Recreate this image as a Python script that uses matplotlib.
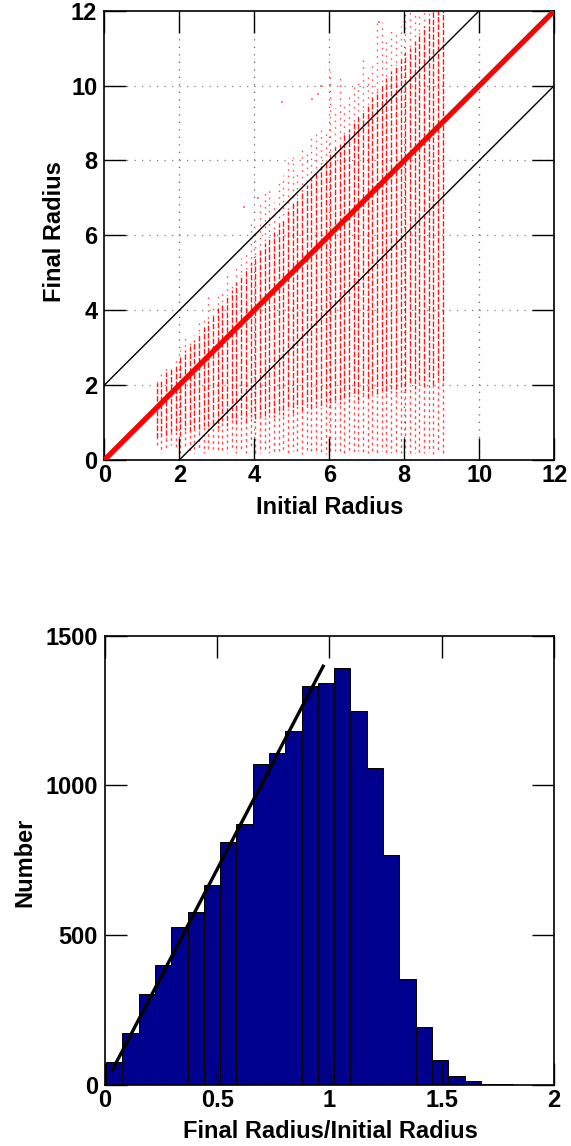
import numpy as np
import matplotlib
matplotlib.use("Agg")
import matplotlib.pyplot as plt

plt.rcParams['font.family'] = ['Liberation Sans', 'DejaVu Sans']
plt.rcParams['font.weight'] = 'bold'

# ---- top panel: final vs initial radius (columns of points) ----
init_r = [1.4, 1.525, 1.65, 1.775, 1.9, 2.025, 2.15, 2.275, 2.4, 2.525,
          2.65, 2.775, 2.9, 3.025, 3.15, 3.275, 3.4, 3.525, 3.65, 3.775,
          3.9, 4.025, 4.15, 4.275, 4.4, 4.525, 4.65, 4.775, 4.9, 5.025,
          5.15, 5.275, 5.4, 5.525, 5.65, 5.775, 5.9, 6.025, 6.15, 6.275,
          6.4, 6.525, 6.65, 6.775, 6.9, 7.025, 7.15, 7.275, 7.4, 7.525,
          7.65, 7.775, 7.9, 8.025, 8.15, 8.275, 8.4, 8.525, 8.65, 8.775,
          8.9, 9.025]
# lowest point, start of dense part, end of dense part, highest point
final_lo = [0.40, 0.20, 0.30, 0.40, 0.30, 0.20, 0.30, 0.25, 0.20, 0.30,
            0.20, 0.25, 0.30, 0.20, 0.25, 0.20, 0.30, 0.20, 0.25, 0.20,
            0.30, 0.15, 0.20, 0.25, 0.20, 0.15, 0.25, 0.20, 0.15, 0.25,
            0.20, 0.15, 0.20, 0.25, 0.15, 0.20, 0.15, 0.20, 0.25, 0.15,
            0.20, 0.15, 0.20, 0.25, 0.15, 0.20, 0.15, 0.20, 0.25, 0.15,
            0.20, 0.15, 0.20, 0.25, 0.15, 0.20, 0.15, 0.20, 0.25, 0.15,
            0.20, 0.15]
dense_lo = [0.60, 0.65, 0.60, 0.75, 0.70, 0.65, 0.80, 0.70, 0.85, 0.75,
            0.90, 0.80, 0.95, 0.85, 1.00, 0.90, 1.05, 0.95, 1.10, 1.00,
            1.15, 1.05, 1.20, 1.10, 1.25, 1.15, 1.30, 1.20, 1.35, 1.25,
            1.40, 1.30, 1.45, 1.35, 1.50, 1.40, 1.55, 1.45, 1.60, 1.50,
            1.65, 1.55, 1.70, 1.60, 1.75, 1.65, 1.80, 1.70, 1.85, 1.75,
            1.90, 1.80, 1.95, 1.85, 2.00, 1.90, 2.05, 1.95, 2.10, 2.00,
            2.15, 2.05]
dense_hi = [2.05, 2.15, 2.35, 2.45, 2.55, 2.75, 2.95, 3.05, 3.20, 3.40,
            3.55, 3.70, 3.85, 4.05, 4.20, 4.40, 4.55, 4.75, 4.95, 5.10,
            5.30, 5.45, 5.60, 5.80, 5.95, 6.10, 6.30, 6.45, 6.65, 6.90,
            7.00, 7.20, 7.35, 7.50, 7.70, 7.85, 8.00, 8.20, 8.35, 8.50,
            8.70, 8.85, 9.00, 9.20, 9.35, 9.50, 9.70, 9.85, 10.00, 10.20,
            10.40, 10.55, 10.70, 10.90, 11.00, 11.20, 11.40, 11.60, 11.80, 12.00,
            12.00, 12.00]
final_hi = [2.15, 2.30, 2.45, 2.60, 2.75, 2.95, 3.30, 3.20, 3.35, 3.65,
            3.85, 4.35, 4.10, 4.50, 4.45, 4.95, 4.75, 5.20, 5.40, 5.60,
            6.40, 6.20, 6.95, 7.20, 7.30, 6.90, 7.40, 7.60, 8.10, 8.10,
            7.70, 8.40, 8.20, 8.60, 8.70, 8.90, 8.80, 10.40, 9.40, 10.20,
            9.50, 9.80, 10.00, 10.10, 10.80, 10.25, 10.60, 11.70, 11.70, 11.30,
            11.50, 11.40, 11.60, 12.00, 12.00, 12.00, 12.00, 12.00, 12.00, 12.00,
            12.00, 12.00]
# isolated points
stray_x = [3.73, 4.10, 4.75, 5.53, 5.69, 5.78, 7.33]
stray_y = [6.77, 7.00, 9.55, 9.65, 9.78, 10.00, 11.70]

# ---- bottom panel: histogram of final/initial radius ----
hist_counts = [76, 172, 303, 399, 526, 578, 668, 812, 872, 1070,
               1108, 1183, 1332, 1343, 1392, 1248, 1059, 768, 354, 192,
               82, 30, 13, 3, 2]
bin_start = 0.006
bin_width = 0.0725
fit_x = [0.034, 0.972]
fit_y = [50, 1398]

fs = 17
fig = plt.figure(figsize=(5.71, 11.46), dpi=100)

ax1 = fig.add_axes([104.3/571, 1-460/1146, 450/571, 449.3/1146])
ax1.set_xlim(0, 12)
ax1.set_ylim(0, 12)
for v in range(2, 12, 2):
    ax1.axvline(v, color='0.4', lw=0.9, ls=(0, (1, 5)), zorder=0)
    ax1.axhline(v, color='0.5', lw=0.9, ls=(0, (1, 5)), zorder=0)

for i, x in enumerate(init_r):
    off = (i * 1.7) % 4
    ax1.plot([x, x], [final_lo[i], dense_lo[i]], color='red', alpha=0.7,
             lw=1.0, ls=(off, (2, 2.4)), zorder=1)
    ax1.plot([x, x], [dense_lo[i], dense_hi[i]], color='red', alpha=0.9,
             lw=1.0, ls=(off, (4, 1.3)), zorder=1)
    if final_hi[i] > dense_hi[i]:
        ax1.plot([x, x], [dense_hi[i], final_hi[i]], color='red', alpha=0.65,
                 lw=1.0, ls=(off, (1.2, 3.5)), zorder=1)
ax1.plot(stray_x, stray_y, 's', color='red', alpha=0.5, ms=1.8, mew=0, zorder=1)

ax1.plot([0, 10], [2, 12], color='black', lw=1.0, zorder=3)
ax1.plot([2, 12], [0, 10], color='black', lw=1.0, zorder=3)
ax1.plot([0, 12], [0, 12], color='red', lw=3.8, zorder=4)

ax1.set_xticks(range(0, 13, 2))
ax1.set_yticks(range(0, 13, 2))

ax2 = fig.add_axes([104.7/571, 1-1085/1146, 449.5/571, 449.3/1146])
edges = bin_start + bin_width * np.arange(len(hist_counts))
ax2.bar(edges, hist_counts, width=bin_width, align='edge',
        color='#00008f', edgecolor='black', linewidth=0.7)
ax2.plot(fit_x, fit_y, color='black', lw=2.4)
ax2.set_xlim(0, 2)
ax2.set_ylim(0, 1500)
ax2.set_xticks([0, 0.5, 1, 1.5, 2])
ax2.set_xticklabels(['0', '0.5', '1', '1.5', '2'])
ax2.set_yticks([0, 500, 1000, 1500])

for ax in (ax1, ax2):
    ax.tick_params(direction='in', length=16, width=1.0, top=True, right=True,
                   labelsize=fs, pad=5)
    ax.tick_params(axis='x', pad=3)
    for s in ax.spines.values():
        s.set_linewidth(1.2)
    for lab in ax.get_xticklabels() + ax.get_yticklabels():
        lab.set_fontweight('bold')

fig.text(330/571, 1-507/1146, 'Initial Radius', ha='center', va='center',
         fontsize=fs, fontweight='bold')
fig.text(55/571, 1-232/1146, 'Final Radius', ha='center', va='center',
         rotation=90, fontsize=fs, fontweight='bold')
fig.text(330/571, 1-1131/1146, 'Final Radius/Initial Radius', ha='center',
         va='center', fontsize=fs, fontweight='bold')
fig.text(25/571, 1-862/1146, 'Number', ha='center', va='center',
         rotation=90, fontsize=fs, fontweight='bold')

fig.savefig('out.png', dpi=100)
